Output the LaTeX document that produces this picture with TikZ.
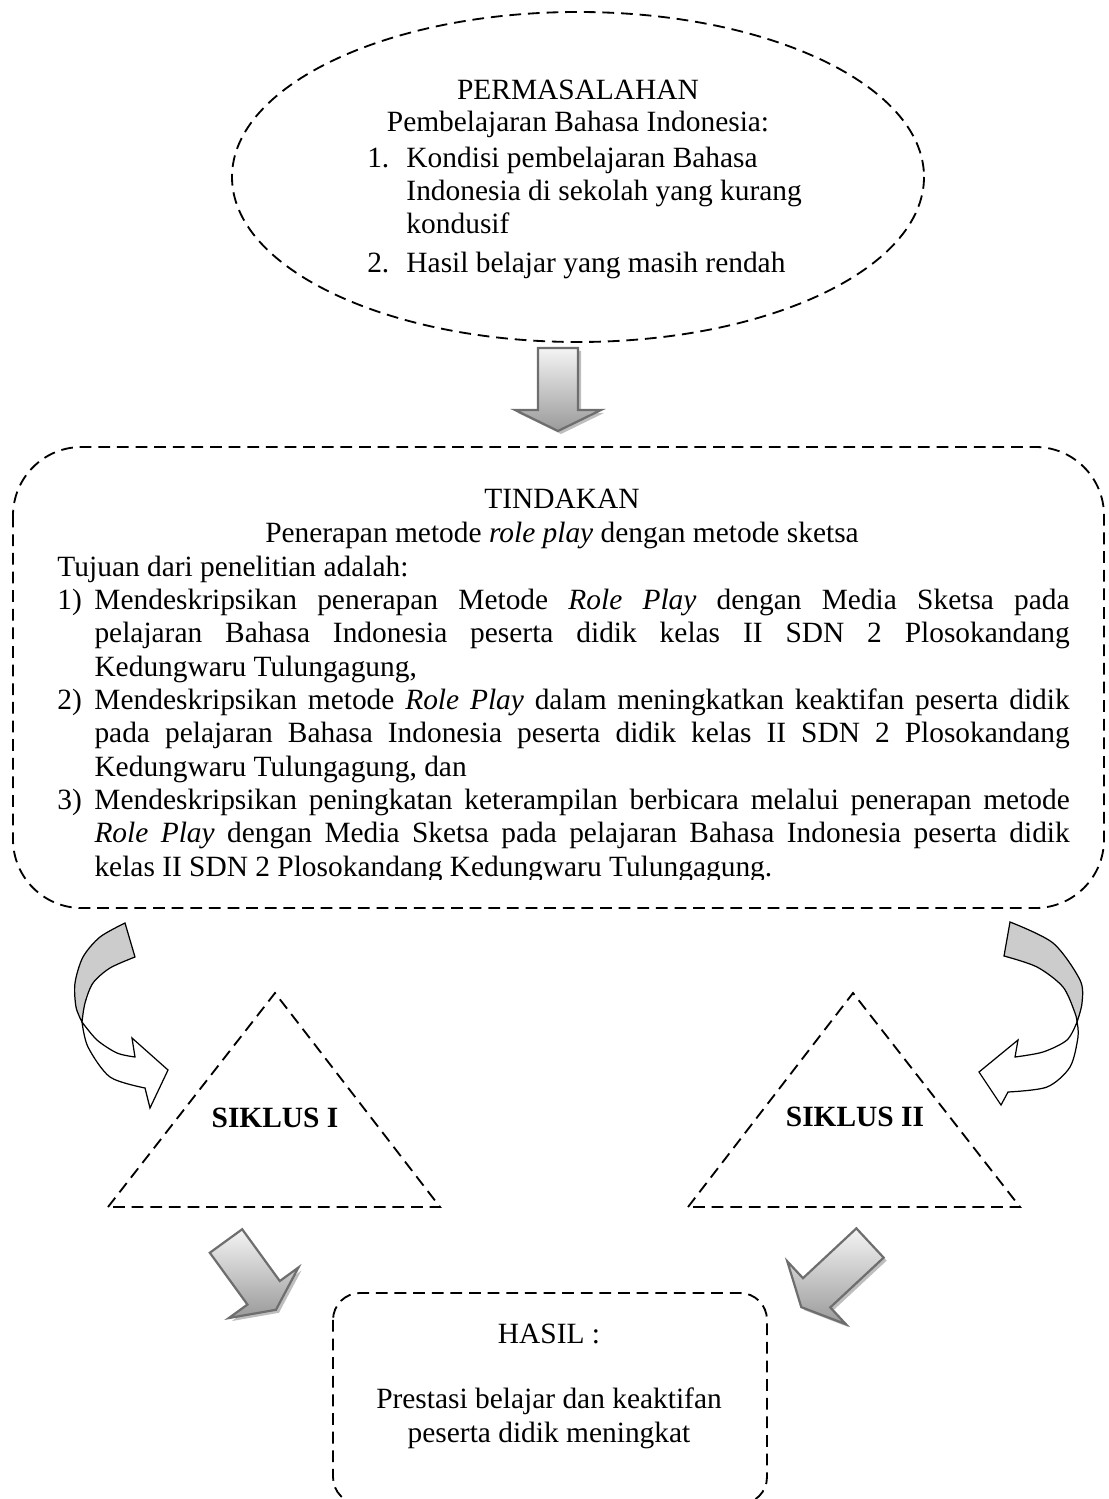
\documentclass[tikz,border=0pt]{standalone}
\usepackage{fontspec}
\setmainfont{Liberation Serif}
\definecolor{ink}    {HTML}{000000}
\definecolor{cBack}  {HTML}{CCCCCC}
\definecolor{cArrow} {HTML}{6E6E6E}
\definecolor{cTop}   {HTML}{F4F4F4}
\definecolor{cBottom}{HTML}{9A9A9A}
\definecolor{cShadow}{HTML}{BEBEBE}
\newcommand{\blockarrow}[4]{%
  \fill[cShadow,shift={({#1+3},{#2+3})},rotate=#3]
    (0,-20) -- (#4,-20) -- (#4,-43) -- ({#4+21},0) -- (#4,43) -- (#4,20) -- (0,20) -- cycle;%
  \draw[blockarr,shift={(#1,#2)},rotate=#3]
    (0,-20) -- (#4,-20) -- (#4,-43) -- ({#4+21},0) -- (#4,43) -- (#4,20) -- (0,20) -- cycle;%
}
\newcommand{\goalitem}[2]{%
  \par\hangindent=15.1pt\hangafter=1\noindent\makebox[15.1pt][l]{#1}#2}

\begin{document}
\begin{tikzpicture}[x=0.408pt,y=-0.408pt,
    dashline/.style={draw=ink,line width=0.75pt,dash pattern=on 4.8pt off 2.8pt},
    body/.style    ={font=\fontsize{12}{13.6}\selectfont,text=ink,inner sep=0pt},
    bold/.style    ={font=\fontsize{12}{13.6}\selectfont\bfseries,text=ink,inner sep=0pt},
    curvback/.style={draw=ink,line width=0.5pt,fill=cBack},
    curvfront/.style={draw=ink,line width=0.5pt,fill=white},
    blockarr/.style={draw=cArrow,line width=0.9pt,top color=cTop,bottom color=cBottom},
  ]

% fixed bounding box -> same proportions as the page
\useasboundingbox (0,0) rectangle (1108,1499);

% ---- permasalahan ----------------------------------------------------------
\draw[dashline] (578,177) ellipse [x radius=346,y radius=165];
\node[body,anchor=base] (perm) at (578,100) {PERMASALAHAN};
\node[body,anchor=base] (permsub) at (578,132) {Pembelajaran Bahasa Indonesia:};
% multi-line node: base = last line
\node[body,anchor=base west,align=left] (permone) at (406,234)
  {\llap{\makebox[16pt][l]{1.}}Kondisi pembelajaran Bahasa\\
   Indonesia di sekolah yang kurang\\
   kondusif};
\node[body,anchor=base west] (permtwo) at (406,273)
  {\llap{\makebox[16pt][l]{2.}}Hasil belajar yang masih rendah};

\blockarrow{558}{348}{-90}{62}

% ---- tindakan --------------------------------------------------------------
\draw[dashline,rounded corners=28pt] (13,447) rectangle (1104,908);
\node[body,anchor=base] (tind) at (562,509) {TINDAKAN};
\node[body,anchor=base] (tindsub) at (562,542)
  {Penerapan metode \textit{role play} dengan metode sketsa};

\begin{scope}
\clip (13,447) rectangle (1104,879);
\node[body,anchor=base west,text width=413pt,align=justify] (tindbody) at (57,576)
  {\hyphenpenalty=10000\tolerance=10000
   Tujuan dari penelitian adalah:
   \goalitem{1)}{Mendeskripsikan penerapan Metode \textit{Role Play} dengan Media Sketsa pada\linebreak
     pelajaran Bahasa Indonesia peserta didik kelas II SDN 2 Plosokandang\linebreak
     Kedungwaru Tulungagung,}
   \goalitem{2)}{Mendeskripsikan metode \textit{Role Play} dalam meningkatkan keaktifan peserta didik\linebreak
     pada pelajaran Bahasa Indonesia peserta didik kelas II SDN 2 Plosokandang\linebreak
     Kedungwaru Tulungagung, dan}
   \goalitem{3)}{Mendeskripsikan peningkatan keterampilan berbicara melalui penerapan metode\linebreak
     \textit{Role Play} dengan Media Sketsa pada pelajaran Bahasa Indonesia peserta didik\linebreak
     kelas II SDN 2 Plosokandang Kedungwaru Tulungagung.}\par};
\end{scope}

% ---- curved arrows ---------------------------------------------------------
\filldraw[curvback]
  plot[smooth] coordinates {(125,923) (100,937) (83,957) (75,983) (76,1007) (82,1022)}
  -- plot[smooth] coordinates {(82,1022) (85,1003) (93,983) (110,968) (135,957)} -- cycle;
\filldraw[curvfront]
  plot[smooth] coordinates {(82,1022) (88,1047) (110,1077) (145,1088)}
  -- (150,1108) -- (168,1070) -- (132,1038) -- (135,1057)
  -- plot[smooth] coordinates {(135,1057) (117,1053) (97,1040) (82,1022)} -- cycle;

\filldraw[curvback]
  plot[smooth] coordinates {(1010,922) (1053,943) (1080,980) (1082,1003) (1077,1022)}
  -- plot[smooth] coordinates {(1077,1022) (1075,1013) (1063,987) (1037,967) (1004,956)} -- cycle;
\filldraw[curvfront]
  plot[smooth] coordinates {(1077,1022) (1078,1037) (1070,1067) (1047,1087) (1008,1092)}
  -- (1001,1105) -- (979,1072) -- (1018,1040) -- (1015,1057)
  -- plot[smooth] coordinates {(1015,1057) (1043,1052) (1067,1040) (1077,1022)} -- cycle;

% ---- siklus ----------------------------------------------------------------
\draw[dashline] (108,1207) -- (275,993) -- (440,1207) -- cycle;
\node[bold] (siklusa) at (275,1118) {SIKLUS I};
\draw[dashline] (688,1207) -- (853,993) -- (1020,1207) -- cycle;
\node[bold] (siklusb) at (855,1117) {SIKLUS II};

\blockarrow{226}{1241}{-54}{64}
\blockarrow{870}{1243}{-137}{73}

% ---- hasil -----------------------------------------------------------------
\draw[dashline,rounded corners=11pt] (333,1293) rectangle (767,1504);
\node[body,anchor=base] (hasil) at (549,1343) {HASIL :};
\node[body,anchor=base,align=center] (hasiltext) at (549,1442)
  {Prestasi belajar dan keaktifan\\peserta didik meningkat};

\end{tikzpicture}
\end{document}
